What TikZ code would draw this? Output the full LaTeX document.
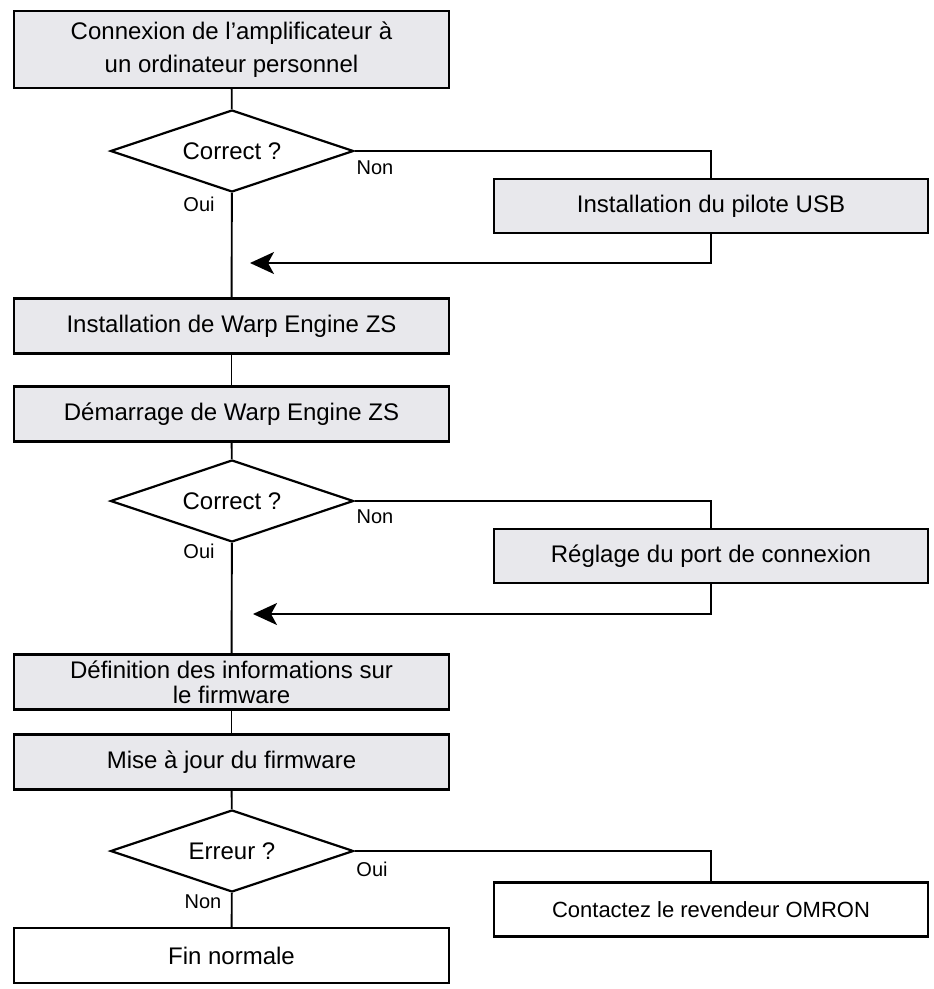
\documentclass[tikz,border=0pt]{standalone}
\usepackage{fontspec}
\setmainfont{Liberation Sans}
\usetikzlibrary{shapes.geometric,arrows.meta}
\definecolor{boxgray}{RGB}{232,232,236}
\tikzset{
  stepbox/.style={draw, line width=2.4pt, fill=boxgray, minimum width=435pt, minimum height=55pt, inner sep=2pt, align=center, font=\fontsize{24}{33}\selectfont},
  endbox/.style={stepbox, fill=white},
  sidebox/.style={stepbox, minimum width=434pt, minimum height=54pt},
  test/.style={diamond, draw, line width=2.2pt, fill=white, aspect=3, minimum width=243pt, minimum height=82pt, inner sep=0pt, font=\fontsize{24}{28}\selectfont},
  lab/.style={font=\fontsize{20}{22}\selectfont},
  line/.style={line width=1.9pt},
  back/.style={line, -{Stealth[length=24pt,width=22pt,inset=6pt]}}
}
\begin{document}
\begin{tikzpicture}[x=1pt,y=-1pt]
  \useasboundingbox (0,0) rectangle (934,989);
  \node[stepbox, minimum height=77pt] (s1) at (231.5,49.5) {Connexion de l'amplificateur à\\un ordinateur personnel};
  \node[test] (d1) at (232,151) {Correct ?};
  \node[sidebox] (u1) at (711,206) {Installation du pilote USB};
  \node[stepbox] (s2) at (231.5,326) {Installation de Warp Engine ZS};
  \node[stepbox] (s3) at (231.5,414) {Démarrage de Warp Engine ZS};
  \node[test] (d2) at (232,501) {Correct ?};
  \node[sidebox] (u2) at (711,556) {Réglage du port de connexion};
  \node[stepbox, font=\fontsize{24}{25}\selectfont] (s4) at (231.5,682) {Définition des informations sur\\le firmware};
  \node[stepbox] (s5) at (231.5,762) {Mise à jour du firmware};
  \node[test] (d3) at (232,851) {Erreur ?};
  \node[sidebox, fill=white, font=\fontsize{22}{26}\selectfont] (u3) at (711,909.5) {Contactez le revendeur OMRON};
  \node[endbox] (s6) at (231.5,955.5) {Fin normale};
  % labels
  \node[lab] (n1) at (375,168) {Non};
  \node[lab] (o1) at (199,204) {Oui};
  \node[lab] (n2) at (375,517) {Non};
  \node[lab] (o2) at (199,551) {Oui};
  \node[lab] (o3) at (372,869) {Oui};
  \node[lab] (n3) at (203,902) {Non};
  % joins
  \coordinate (m1) at (250,263);
  \coordinate (m2) at (253,614);
  \draw[line] (s1) -- (d1);
  \draw[line] (d1) -- (s2);
  \draw[line] (d1.east) -| (u1.north);
  \draw[back] (u1.south) |- (m1);
  \draw[line] (s2) -- (s3);
  \draw[line] (s3) -- (d2);
  \draw[line] (d2) -- (s4);
  \draw[line] (d2.east) -| (u2.north);
  \draw[back] (u2.south) |- (m2);
  \draw[line] (s4) -- (s5);
  \draw[line] (s5) -- (d3);
  \draw[line] (d3) -- (s6);
  \draw[line] (d3.east) -| (u3.north);
\end{tikzpicture}
\end{document}
